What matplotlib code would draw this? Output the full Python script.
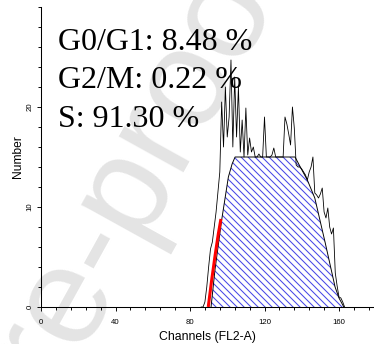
import numpy as np
import matplotlib.pyplot as plt

# cell cycle histogram, channel vs number of events
channels = np.arange(86, 164)
counts = [0, 0, 0.5, 2, 4, 5.8, 6.5, 8, 9.5, 11.5,          # 86-95
          13.5, 20.5, 16, 22, 17, 19, 24.7, 16, 23, 17,      # 96-105
          22, 15.5, 18.7, 15, 19.9, 15.2, 16.9, 15.5, 16, 15,  # 106-115
          15, 15.3, 15, 15, 19, 15, 15, 15, 15.2, 15.9,      # 116-125
          15, 15, 15, 15, 15, 19, 18.3, 17.3, 16.2, 20,      # 126-135
          17.9, 14.2, 14.0, 14.0, 13.8, 13.5, 13.2, 12.7, 13.5, 14,  # 136-145
          15, 11.4, 11.2, 10.9, 11.3, 11.9, 9.5, 8.9, 9.9, 8,  # 146-155
          7.3, 7.9, 3.4, 2.1, 1.0, 0.9, 0.5, 0]              # 156-163

# S phase model outline
s_ch = [91.3, 93.4, 97.0, 100.6, 102.6, 104.2, 136.4, 139.5, 143.0, 147.0, 152.5, 157.9, 160.0, 162.6]
s_val = [0, 3.7, 8.7, 13.0, 14.3, 15.0, 15.0, 13.9, 12.7, 10.9, 6.5, 2.0, 0.9, 0]

# G0/G1 peak (rising side)
g1_ch = [89.8, 91.5, 93.5, 95.2, 96.6]
g1_val = [0, 2.5, 5.2, 7.3, 8.8]

labels = ['G0/G1: 8.48 %', 'G2/M: 0.22 %', 'S: 91.30 %']

W, H, DPI = 374, 344, 84
plt.rcParams['hatch.linewidth'] = 0.9
plt.rcParams['hatch.color'] = '#4848e6'
fig = plt.figure(figsize=(W / DPI, H / DPI), dpi=DPI)
pt = 72 / DPI

# faint watermark behind the plot
fig.text(118 / W, 1 - 196 / H, 'Pre-proof', fontsize=140 * pt, color='#e4e4e4',
         family='Liberation Sans', rotation=61, rotation_mode='anchor',
         ha='center', va='center', zorder=-1)

ax = fig.add_axes([41 / W, 37 / H, 333 / W, 300 / H])
ax.set_facecolor('none')

ax.fill_between(s_ch, s_val, 0, facecolor='none', edgecolor='#4848e6', hatch='\\\\\\\\', linewidth=0)
ax.plot(s_ch, s_val, color='black', lw=0.8)
ax.plot(channels, counts, color='black', lw=0.7)
ax.plot(g1_ch, g1_val, color='#ff0000', lw=2.6, solid_capstyle='butt')

ax.set_xlim(0, 333 / 1.8625)
ax.set_ylim(0, 30)
ax.spines['top'].set_visible(False)
ax.spines['right'].set_visible(False)
ax.spines['left'].set_linewidth(0.9)
ax.spines['bottom'].set_linewidth(0.9)

ax.set_xticks([0, 40, 80, 120, 160])
ax.set_xticks(np.arange(0, 180, 8), minor=True)
ax.set_yticks([0, 10, 20])
ax.set_yticks(np.arange(0, 31, 2), minor=True)
ax.tick_params(which='major', length=4.5 * pt, width=0.8, labelsize=7.8 * pt)
ax.tick_params(which='minor', length=3 * pt, width=0.8)
ax.tick_params(axis='x', pad=8 * pt)
ax.tick_params(axis='y', pad=3 * pt)
for t in ax.get_yticklabels():
    t.set_rotation(90)
    t.set_va('center')
for t in ax.get_xticklabels() + ax.get_yticklabels():
    t.set_family('Liberation Sans')

ax.set_xlabel('Channels (FL2-A)', fontsize=12.2 * pt, family='Liberation Sans', labelpad=4)
ax.set_ylabel('Number', fontsize=12 * pt, family='Liberation Sans', labelpad=2)

for i, s in enumerate(labels):
    fig.text(58 / W, 1 - (50 + 38.5 * i) / H, s, fontsize=32 * pt,
             family='Liberation Serif', va='baseline', ha='left')

fig.savefig('out.png', dpi=DPI)
